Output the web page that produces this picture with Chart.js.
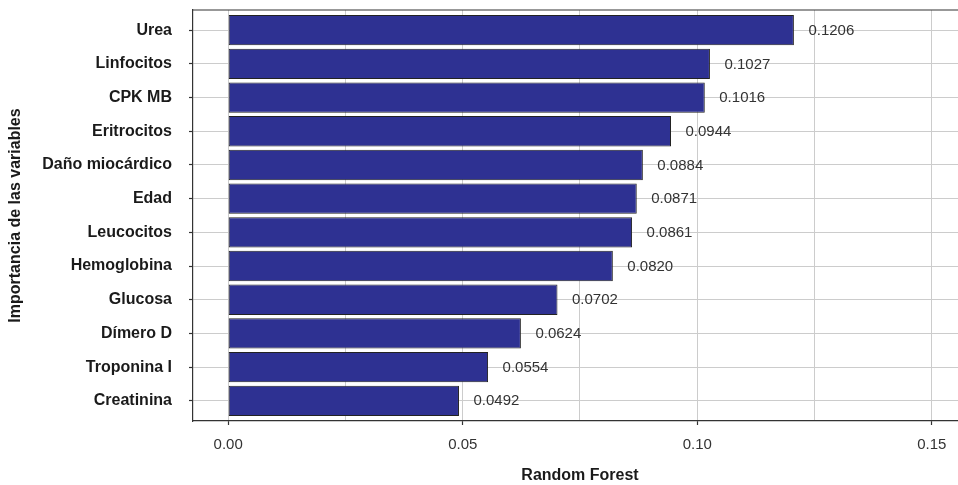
<!DOCTYPE html>
<html>
<head>
<meta charset="utf-8">
<script src="https://cdn.jsdelivr.net/npm/chart.js@4.4.1/dist/chart.umd.min.js"></script>
<style>
  html, body { margin: 0; padding: 0; overflow: hidden; background: #fff; }
  canvas { display: block; }
</style>
</head>
<body>
<canvas id="c" width="968" height="485"></canvas>
<script>
const categories = ["Urea", "Linfocitos", "CPK MB", "Eritrocitos", "Daño miocárdico", "Edad",
  "Leucocitos", "Hemoglobina", "Glucosa", "Dímero D", "Troponina I", "Creatinina"];
const importance = [0.1206, 0.1027, 0.1016, 0.0944, 0.0884, 0.0871, 0.0861, 0.0820, 0.0702, 0.0624, 0.0554, 0.0492];
const xTicks = [0, 0.025, 0.05, 0.075, 0.10, 0.125, 0.15];
const xTickLabels = ["0.00", "", "0.05", "", "0.10", "", "0.15"];
const xTitle = "Random Forest";
const yTitle = "Importancia de las variables";

const FONT = "'Liberation Sans', Arial, Helvetica, sans-serif";

const valueLabels = {
  id: 'valueLabels',
  afterDatasetsDraw(chart) {
    const ctx = chart.ctx;
    const meta = chart.getDatasetMeta(0);
    ctx.save();
    ctx.font = "15px " + FONT;
    ctx.fillStyle = "#333333";
    ctx.textAlign = "left";
    ctx.textBaseline = "middle";
    meta.data.forEach((bar, i) => {
      ctx.fillText(importance[i].toFixed(4), bar.x + 14.5, bar.y + 0.5);
    });
    ctx.restore();
  }
};

const topBorder = {
  id: 'topBorder',
  afterDraw(chart) {
    const a = chart.chartArea;
    const ctx = chart.ctx;
    ctx.save();
    ctx.strokeStyle = "#333333";
    ctx.lineWidth = 1.2;
    ctx.beginPath();
    ctx.moveTo(a.left, a.top);
    ctx.lineTo(a.right, a.top);
    ctx.stroke();
    ctx.restore();
  }
};

new Chart(document.getElementById('c'), {
  type: 'bar',
  data: {
    datasets: [{
      data: importance.map((v, i) => ({ x: v, y: i })),
      backgroundColor: "#2E3192",
      borderColor: "#222222",
      borderWidth: 1,
      borderSkipped: false,
      barPercentage: 0.9,
      categoryPercentage: 1
    }]
  },
  options: {
    indexAxis: 'y',
    responsive: false,
    animation: false,
    layout: { padding: { left: 0, right: 1, top: 10, bottom: 0 } },
    plugins: { legend: { display: false }, tooltip: { enabled: false } },
    scales: {
      x: {
        type: 'linear',
        position: 'bottom',
        min: -0.0075,
        max: 0.1575,
        afterBuildTicks(scale) { scale.ticks = xTicks.map(v => ({ value: v })); },
        afterFit(scale) { scale.height = 64; scale.paddingLeft = 0; scale.paddingRight = 0; },
        ticks: {
          callback: (v, i) => xTickLabels[i],
          font: { family: FONT, size: 15 },
          color: "#333333",
          padding: 11,
          maxRotation: 0,
          autoSkip: false
        },
        grid: {
          color: "#cccccc",
          lineWidth: 1,
          tickLength: 4,
          tickColor: (ctx) => (ctx.index % 2 === 0 ? "#333333" : "rgba(0,0,0,0)"),
          tickWidth: 1.2
        },
        border: { display: true, color: "#333333", width: 1.2 },
        title: {
          display: true,
          text: xTitle,
          font: { family: FONT, size: 16, weight: 'bold' },
          color: "#1a1a1a",
          padding: { top: 0, bottom: 0 }
        }
      },
      y: {
        type: 'linear',
        position: 'left',
        reverse: true,
        offset: false,
        min: -0.6,
        max: 11.6,
        afterBuildTicks(scale) { scale.ticks = categories.map((c, i) => ({ value: i })); },
        afterFit(scale) { scale.width = 193; scale.paddingTop = 0; scale.paddingBottom = 0; },
        ticks: {
          callback: (v) => categories[v],
          font: { family: FONT, size: 16, weight: 'bold' },
          color: "#1a1a1a",
          padding: 17,
          autoSkip: false
        },
        grid: {
          offset: false,
          color: "#cccccc",
          lineWidth: 1,
          tickLength: 4,
          tickColor: "#333333",
          tickWidth: 1.2
        },
        border: { display: true, color: "#333333", width: 1.2 },
        title: {
          display: true,
          text: yTitle,
          font: { family: FONT, size: 16, weight: 'bold' },
          color: "#1a1a1a",
          padding: { top: 6, bottom: 0 }
        }
      }
    }
  },
  plugins: [valueLabels, topBorder]
});
</script>
</body>
</html>
